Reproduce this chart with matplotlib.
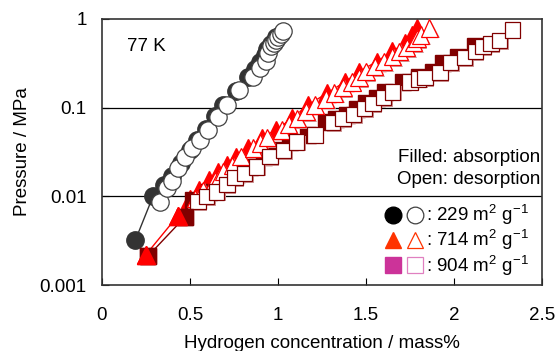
import matplotlib
matplotlib.use("Agg")
import matplotlib.pyplot as plt
import matplotlib.patheffects as pe
from matplotlib.legend_handler import HandlerTuple
from matplotlib.lines import Line2D

plt.rcParams['font.family'] = ['Liberation Sans', 'DejaVu Sans']
plt.rcParams['mathtext.fontset'] = 'custom'
plt.rcParams['mathtext.rm'] = 'Liberation Sans'

# 229 m2/g (circles)
c_abs_x = [0.19, 0.29, 0.35, 0.40, 0.45, 0.50, 0.54, 0.59, 0.64, 0.69, 0.76, 0.83, 0.87, 0.90, 0.925, 0.94, 0.96, 0.99]
c_abs_p = [0.0032, 0.0100, 0.0135, 0.0170, 0.024, 0.033, 0.043, 0.058, 0.080, 0.107, 0.155, 0.22, 0.27, 0.33, 0.39, 0.46, 0.52, 0.62]
c_des_x = [0.33, 0.37, 0.40, 0.43, 0.47, 0.51, 0.556, 0.60, 0.66, 0.71, 0.78, 0.86, 0.90, 0.93, 0.945, 0.96, 0.975, 0.99, 1.0, 1.015, 1.03]
c_des_p = [0.0087, 0.0123, 0.015, 0.021, 0.028, 0.035, 0.043, 0.056, 0.079, 0.107, 0.158, 0.224, 0.28, 0.34, 0.41, 0.49, 0.53, 0.58, 0.62, 0.67, 0.73]

# 714 m2/g (triangles)
t_abs_x = [0.25, 0.43, 0.50, 0.55, 0.61, 0.66, 0.71, 0.76, 0.83, 0.91, 0.99, 1.08, 1.17, 1.28, 1.38, 1.46, 1.56, 1.65, 1.72, 1.76, 1.79]
t_abs_p = [0.0022, 0.0060, 0.0093, 0.0117, 0.0151, 0.019, 0.0224, 0.028, 0.035, 0.046, 0.056, 0.076, 0.107, 0.146, 0.195, 0.254, 0.33, 0.43, 0.54, 0.66, 0.80]
t_des_x = [0.53, 0.575, 0.64, 0.67, 0.69, 0.74, 0.79, 0.86, 0.90, 0.94, 1.02, 1.06, 1.11, 1.16, 1.21, 1.27, 1.32, 1.37, 1.42, 1.46, 1.50, 1.55, 1.60, 1.65, 1.69, 1.73, 1.77, 1.79, 1.81, 1.86]
t_des_p = [0.0095, 0.0117, 0.0151, 0.017, 0.019, 0.0224, 0.028, 0.035, 0.040, 0.046, 0.056, 0.065, 0.076, 0.09, 0.107, 0.125, 0.146, 0.17, 0.195, 0.22, 0.254, 0.29, 0.33, 0.38, 0.43, 0.48, 0.54, 0.60, 0.66, 0.79]

# 904 m2/g (squares)
s_abs_x = [0.26, 0.47, 0.52, 0.61, 0.70, 0.77, 0.84, 0.92, 0.99, 1.07, 1.17, 1.27, 1.33, 1.39, 1.45, 1.50, 1.56, 1.61, 1.71, 1.80, 1.88, 1.94, 2.02, 2.12]
s_abs_p = [0.0021, 0.0058, 0.0090, 0.0112, 0.0150, 0.018, 0.0214, 0.028, 0.033, 0.041, 0.049, 0.068, 0.075, 0.083, 0.097, 0.112, 0.13, 0.15, 0.195, 0.22, 0.25, 0.32, 0.37, 0.49]
s_des_x = [0.545, 0.595, 0.65, 0.71, 0.756, 0.81, 0.88, 0.955, 1.03, 1.106, 1.21, 1.31, 1.37, 1.43, 1.49, 1.54, 1.60, 1.65, 1.75, 1.80, 1.835, 1.92, 1.98, 2.06, 2.12, 2.165, 2.21, 2.26, 2.33]
s_des_p = [0.0087, 0.010, 0.0112, 0.0135, 0.0162, 0.018, 0.0214, 0.028, 0.033, 0.041, 0.049, 0.068, 0.075, 0.083, 0.097, 0.112, 0.13, 0.15, 0.195, 0.21, 0.22, 0.25, 0.32, 0.37, 0.43, 0.49, 0.53, 0.575, 0.75]

labels = [': 229 m$^{2}$ g$^{-1}$', ': 714 m$^{2}$ g$^{-1}$', ': 904 m$^{2}$ g$^{-1}$']

fig = plt.figure(figsize=(5.6, 3.51), dpi=100)
ax = fig.add_axes([0.182, 0.188, 0.786, 0.758])

shadow = [pe.SimplePatchShadow(offset=(1.2, -1.2), shadow_rgbFace='#d09a9a', alpha=1.0), pe.Normal()]

# absorption (filled) first, desorption (open) on top
ax.plot(c_abs_x, c_abs_p, '-o', color='#333333', lw=1, ms=12.5, mec='#333333', zorder=2)
ax.plot(t_abs_x, t_abs_p, '-^', color='#ff0000', lw=1, ms=12.5, mec='#ff0000', zorder=2)
ax.plot(s_abs_x, s_abs_p, '-s', color='#800000', lw=1, ms=11, mec='#800000', zorder=2)

ax.plot(c_des_x, c_des_p, 'o', mfc='white', mec='#404040', mew=0.9, ms=12.5, zorder=3)
ax.plot(t_des_x, t_des_p, '^', mfc='white', mec='#ff0000', mew=0.9, ms=12.5, zorder=3, path_effects=shadow)
ax.plot(s_des_x, s_des_p, 's', mfc='white', mec='#800000', mew=0.9, ms=11, zorder=3, path_effects=shadow)
# first absorption points sit on top
ax.plot(s_abs_x[:2], s_abs_p[:2], 's', color='#800000', ms=11, zorder=4)
ax.plot(t_abs_x[:2], t_abs_p[:2], '^', color='#ff0000', ms=12.5, zorder=5)

ax.set_yscale('log')
ax.set_xlim(0, 2.5)
ax.set_ylim(0.001, 1)
ax.set_xticks([0, 0.5, 1, 1.5, 2, 2.5])
ax.set_xticklabels(['0', '0.5', '1', '1.5', '2', '2.5'])
ax.set_yticks([0.001, 0.01, 0.1, 1])
ax.set_yticklabels(['0.001', '0.01', '0.1', '1'])
ax.minorticks_off()
ax.tick_params(direction='in', length=5, labelsize=13.5)
ax.tick_params(axis='x', pad=16)
ax.tick_params(axis='y', pad=11)
for s in ax.spines.values():
    s.set_color('#333333')
    s.set_linewidth(1.2)
for yv in [0.01, 0.1]:
    ax.axhline(yv, color='black', lw=0.9, zorder=1)

ax.set_xlabel('Hydrogen concentration / mass%', fontsize=13.5, labelpad=8)
ax.set_ylabel('Pressure / MPa', fontsize=13.5, labelpad=6)

ax.text(0.057, 0.895, '77 K', transform=ax.transAxes, fontsize=13.5, va='center')
ax.text(0.995, 0.48, 'Filled: absorption', transform=ax.transAxes, fontsize=13.5, va='center', ha='right')
ax.text(0.995, 0.395, 'Open: desorption', transform=ax.transAxes, fontsize=13.5, va='center', ha='right')

h1 = (Line2D([], [], ls='', marker='o', color='black', ms=12),
      Line2D([], [], ls='', marker='o', mfc='white', mec='#404040', mew=0.9, ms=12))
h2 = (Line2D([], [], ls='', marker='^', color='#ff3300', ms=12),
      Line2D([], [], ls='', marker='^', mfc='white', mec='#ff3300', mew=0.9, ms=12))
h3 = (Line2D([], [], ls='', marker='s', color='#cc3399', ms=11),
      Line2D([], [], ls='', marker='s', mfc='white', mec='#e080c0', mew=0.9, ms=11))
ax.legend([h1, h2, h3], labels, handler_map={tuple: HandlerTuple(ndivide=None, pad=0.1)},
          loc='lower right', bbox_to_anchor=(0.988, 0.0), frameon=False, fontsize=13.5,
          handlelength=2.2, handletextpad=0.1, labelspacing=0.02, borderaxespad=0.1, borderpad=0.3)

fig.savefig('out.png', dpi=100)
